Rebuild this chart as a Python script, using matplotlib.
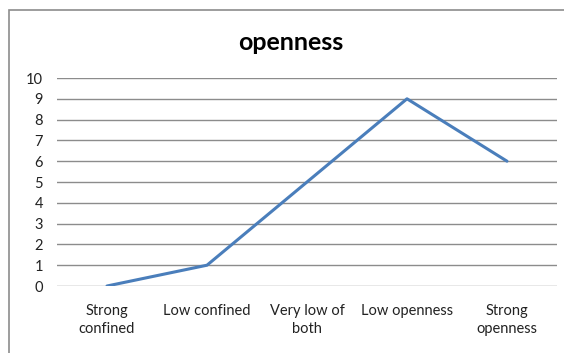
import matplotlib.pyplot as plt
from matplotlib.patches import Rectangle

categories = ['Strong\nconfined', 'Low confined', 'Very low of\nboth', 'Low openness', 'Strong\nopenness']
values = [0, 1, 5, 9, 6]
yticks = list(range(0, 11))

plt.rcParams['font.family'] = ['Lato', 'DejaVu Sans']

fig = plt.figure(figsize=(5.64, 3.53), dpi=100)
ax = fig.add_axes([57/564, 1 - 286/353, (557 - 57)/564, (286 - 78)/353])

# chart area border (extends past right/bottom edge)
fig.patches.append(Rectangle((9/564, -0.1), 1.2, 1 - 10/353 + 0.1, transform=fig.transFigure,
                             fill=False, edgecolor='#8c8c8c', linewidth=1.2))

x = list(range(len(categories)))
ax.plot(x, values, color='#4a7ebb', linewidth=2.2, solid_capstyle='round')

ax.set_xlim(-0.5, len(categories) - 0.5)
ax.set_ylim(0, 10)
ax.set_yticks(yticks)
ax.set_xticks(x)
ax.set_xticklabels(categories, fontsize=10.5, color='#222222', linespacing=1.4)
ax.tick_params(axis='y', labelsize=10.5, labelcolor='#222222', length=0, pad=10)
ax.tick_params(axis='x', length=0, pad=13)
ax.yaxis.grid(True, color='#8c8c8c', linewidth=1.0)
ax.set_axisbelow(True)
for s in ax.spines.values():
    s.set_visible(False)

fig.text(291/564, 1 - 43/353, 'openness', ha='center', va='center', fontsize=18, fontweight='bold')

fig.savefig('out.png', dpi=100)
